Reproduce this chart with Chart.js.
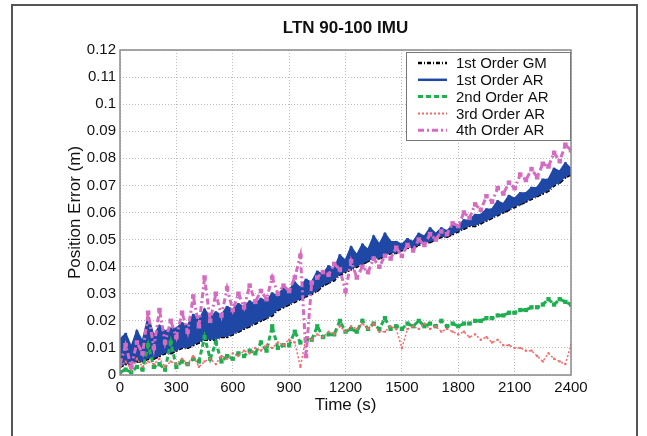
<!DOCTYPE html>
<html>
<head>
<meta charset="utf-8">
<script src="https://cdn.jsdelivr.net/npm/chart.js@4.4.0/dist/chart.umd.min.js"></script>
<style>
  html, body { margin: 0; padding: 0; background: #fff; }
  #wrap { width: 647px; height: 436px; position: relative; }
</style>
</head>
<body>
<div id="wrap"><canvas id="chart"></canvas></div>
<script>
// time samples (s), every 30 s
const timeS = [
  0, 30, 60, 90, 120, 150, 180, 210, 240, 270,
  300, 330, 360, 390, 420, 450, 480, 510, 540, 570,
  600, 630, 660, 690, 720, 750, 780, 810, 840, 870,
  900, 930, 960, 990, 1020, 1050, 1080, 1110, 1140, 1170,
  1200, 1230, 1260, 1290, 1320, 1350, 1380, 1410, 1440, 1470,
  1500, 1530, 1560, 1590, 1620, 1650, 1680, 1710, 1740, 1770,
  1800, 1830, 1860, 1890, 1920, 1950, 1980, 2010, 2040, 2070,
  2100, 2130, 2160, 2190, 2220, 2250, 2280, 2310, 2340, 2370,
  2400
];

const gm1 = [
  0.003, 0.004, 0.004, 0.005, 0.005, 0.006, 0.006, 0.007, 0.008, 0.008,
  0.009, 0.010, 0.010, 0.011, 0.012, 0.013, 0.013, 0.013, 0.014, 0.014,
  0.015, 0.016, 0.017, 0.018, 0.019, 0.020, 0.021, 0.022, 0.024, 0.025,
  0.026, 0.027, 0.028, 0.029, 0.030, 0.031, 0.033, 0.034, 0.035, 0.037,
  0.038, 0.039, 0.040, 0.041, 0.042, 0.043, 0.043, 0.044, 0.045, 0.045,
  0.046, 0.047, 0.047, 0.048, 0.049, 0.049, 0.050, 0.051, 0.051, 0.052,
  0.053, 0.054, 0.055, 0.055, 0.056, 0.057, 0.058, 0.059, 0.060, 0.061,
  0.062, 0.063, 0.064, 0.065, 0.066, 0.067, 0.068, 0.070, 0.071, 0.073,
  0.074
];

// upper edge of the 1st order AR band (band is filled down to the GM curve)
const ar1 = [
  0.013, 0.015, 0.010, 0.016, 0.012, 0.021, 0.014, 0.018, 0.016, 0.017,
  0.017, 0.019, 0.018, 0.022, 0.020, 0.024, 0.021, 0.023, 0.022, 0.025,
  0.024, 0.026, 0.025, 0.027, 0.026, 0.028, 0.027, 0.030, 0.029, 0.032,
  0.031, 0.034, 0.032, 0.035, 0.034, 0.038, 0.037, 0.040, 0.039, 0.044,
  0.042, 0.047, 0.044, 0.048, 0.046, 0.051, 0.048, 0.052, 0.049, 0.049,
  0.048, 0.050, 0.049, 0.052, 0.051, 0.054, 0.052, 0.054, 0.053, 0.055,
  0.055, 0.057, 0.057, 0.059, 0.059, 0.061, 0.061, 0.064, 0.063, 0.066,
  0.065, 0.067, 0.067, 0.069, 0.069, 0.072, 0.072, 0.076, 0.075, 0.078,
  0.076
];

const ar2 = [
  0.001, 0.002, 0.001, 0.003, 0.002, 0.011, 0.003, 0.004, 0.002, 0.012,
  0.003, 0.005, 0.004, 0.006, 0.005, 0.014, 0.006, 0.012, 0.005, 0.007,
  0.006, 0.008, 0.007, 0.009, 0.008, 0.012, 0.009, 0.018, 0.010, 0.011,
  0.011, 0.016, 0.012, 0.013, 0.013, 0.018, 0.014, 0.015, 0.015, 0.020,
  0.016, 0.017, 0.016, 0.020, 0.017, 0.019, 0.017, 0.021, 0.017, 0.018,
  0.017, 0.019, 0.018, 0.020, 0.018, 0.019, 0.018, 0.020, 0.018, 0.019,
  0.018, 0.019, 0.019, 0.020, 0.020, 0.021, 0.021, 0.022, 0.022, 0.023,
  0.023, 0.024, 0.024, 0.025, 0.025, 0.026, 0.028, 0.026, 0.028, 0.027,
  0.026
];

const ar3 = [
  0.003, 0.005, 0.002, 0.006, 0.003, 0.005, 0.004, 0.006, 0.003, 0.005,
  0.004, 0.006, 0.004, 0.007, 0.003, 0.005, 0.006, 0.004, 0.007, 0.006,
  0.008, 0.007, 0.009, 0.008, 0.010, 0.009, 0.011, 0.010, 0.012, 0.011,
  0.013, 0.012, 0.003, 0.014, 0.013, 0.015, 0.014, 0.016, 0.015, 0.018,
  0.016, 0.018, 0.017, 0.019, 0.017, 0.019, 0.016, 0.016, 0.018, 0.017,
  0.010, 0.017, 0.018, 0.017, 0.019, 0.017, 0.018, 0.016, 0.017, 0.016,
  0.015, 0.016, 0.014, 0.015, 0.013, 0.014, 0.012, 0.013, 0.011, 0.011,
  0.010, 0.010, 0.009, 0.009, 0.007, 0.005, 0.008, 0.006, 0.005, 0.004,
  0.011
];

const ar4 = [
  0.004, 0.011, 0.003, 0.012, 0.008, 0.023, 0.010, 0.024, 0.012, 0.020,
  0.014, 0.023, 0.016, 0.029, 0.018, 0.036, 0.020, 0.030, 0.022, 0.032,
  0.024, 0.030, 0.025, 0.033, 0.027, 0.031, 0.028, 0.036, 0.030, 0.033,
  0.031, 0.036, 0.044, 0.007, 0.034, 0.036, 0.038, 0.037, 0.041, 0.039,
  0.031, 0.042, 0.036, 0.040, 0.038, 0.043, 0.040, 0.044, 0.043, 0.047,
  0.044, 0.048, 0.046, 0.050, 0.048, 0.052, 0.050, 0.053, 0.052, 0.056,
  0.055, 0.060, 0.058, 0.063, 0.061, 0.066, 0.064, 0.069, 0.067, 0.071,
  0.069, 0.074, 0.072, 0.076, 0.073, 0.078, 0.077, 0.082, 0.079, 0.085,
  0.083
];

const seriesNames = ['1st Order GM', '1st Order AR', '2nd Order AR', '3rd Order AR', '4th Order AR'];
const yTicks = [0, 0.01, 0.02, 0.03, 0.04, 0.05, 0.06, 0.07, 0.08, 0.09, 0.1, 0.11, 0.12];
const xTicks = [0, 300, 600, 900, 1200, 1500, 1800, 2100, 2400];

const FONT = 'Liberation Sans, Arial, Helvetica, sans-serif';

function toPoints(values) {
  return timeS.map((t, i) => ({ x: t, y: values[i] }));
}

// line styles roughly like the MATLAB figure
const styles = [
  { color: '#000000', width: 2.5, dash: [4, 2, 1, 2], radius: 1.5, order: 5 },
  { color: '#1f48a6', width: 2.5, dash: [], radius: 2, order: 4 },
  { color: '#1fae50', width: 3, dash: [5, 3], radius: 3, order: 3 },
  { color: '#f26a6a', width: 1.5, dash: [2, 2], radius: 1.5, order: 2 },
  { color: '#d46cc2', width: 3, dash: [6, 3, 2, 3], radius: 3.2, order: 1 }
];

const allValues = [gm1, ar1, ar2, ar3, ar4];

const datasets = allValues.map((vals, i) => ({
  label: seriesNames[i],
  data: toPoints(vals),
  borderColor: styles[i].color,
  backgroundColor: styles[i].color,
  borderWidth: styles[i].width,
  borderDash: styles[i].dash,
  pointStyle: 'rect',
  pointRadius: styles[i].radius,
  pointBorderWidth: 0,
  tension: 0,
  fill: i === 1 ? 0 : false,
  order: styles[i].order
}));

// outer figure frame + axes box + legend
const figurePlugin = {
  id: 'figurePlugin',
  beforeDraw(chart) {
    const ctx = chart.ctx;
    ctx.save();
    ctx.strokeStyle = '#555';
    ctx.lineWidth = 2;
    ctx.strokeRect(12, 5, 625, 445);
    ctx.restore();
  },
  afterDraw(chart) {
    const ctx = chart.ctx;
    const a = chart.chartArea;
    ctx.save();
    ctx.strokeStyle = '#8a8a8a';
    ctx.lineWidth = 1.5;
    ctx.strokeRect(a.left, a.top, a.right - a.left, a.bottom - a.top);

    // legend box
    const bx = 406, by = 52, bw = a.right - 406 - 1, bh = 88;
    ctx.fillStyle = '#fff';
    ctx.fillRect(bx, by, bw, bh);
    ctx.strokeStyle = '#777';
    ctx.lineWidth = 1;
    ctx.strokeRect(bx + 0.5, by + 0.5, bw, bh);

    ctx.font = '15px ' + FONT;
    ctx.textBaseline = 'middle';
    ctx.textAlign = 'left';
    seriesNames.forEach((name, i) => {
      const y = 63 + i * 16.8;
      const s = styles[i];
      ctx.strokeStyle = s.color;
      ctx.lineWidth = Math.max(s.width, 2);
      ctx.setLineDash(s.dash);
      ctx.beginPath();
      ctx.moveTo(418, y);
      ctx.lineTo(447, y);
      ctx.stroke();
      ctx.setLineDash([]);
      ctx.fillStyle = '#111';
      ctx.fillText(name, 456, y + 1);
    });
    ctx.restore();
  }
};

new Chart(document.getElementById('chart'), {
  type: 'line',
  data: { datasets: datasets },
  options: {
    responsive: true,
    maintainAspectRatio: false,
    animation: false,
    devicePixelRatio: 1,
    layout: { padding: { left: 0, right: 76, top: 0, bottom: 0 } },
    plugins: {
      legend: { display: false },
      tooltip: { enabled: false },
      title: {
        display: true,
        text: 'LTN 90-100 IMU',
        fullSize: false,
        color: '#111',
        font: { family: FONT, size: 17, weight: 'bold' },
        padding: { top: 18, bottom: 11.6 }
      }
    },
    scales: {
      x: {
        type: 'linear',
        min: 0,
        max: 2400,
        afterFit(scale) { scale.height = 61; },
        afterBuildTicks(scale) { scale.ticks = xTicks.map(v => ({ value: v })); },
        ticks: {
          color: '#111',
          font: { family: FONT, size: 15 },
          padding: 4,
          maxRotation: 0,
          callback: v => String(v)
        },
        grid: { color: '#bdbdbd', drawTicks: false },
        border: { display: false, dash: [1, 2] },
        title: {
          display: true,
          text: 'Time (s)',
          color: '#111',
          font: { family: FONT, size: 17 },
          padding: { top: 0, bottom: 20 }
        }
      },
      y: {
        type: 'linear',
        min: 0,
        max: 0.12,
        afterFit(scale) { scale.width = 120; },
        afterBuildTicks(scale) { scale.ticks = yTicks.map(v => ({ value: v })); },
        ticks: {
          color: '#111',
          font: { family: FONT, size: 15 },
          padding: 4,
          callback: v => String(+v.toFixed(2))
        },
        grid: { color: '#bdbdbd', drawTicks: false },
        border: { display: false, dash: [1, 2] },
        title: {
          display: true,
          text: 'Position Error (m)',
          color: '#111',
          font: { family: FONT, size: 17 },
          padding: { top: 65, bottom: 0 }
        }
      }
    }
  },
  plugins: [figurePlugin]
});
</script>
</body>
</html>
